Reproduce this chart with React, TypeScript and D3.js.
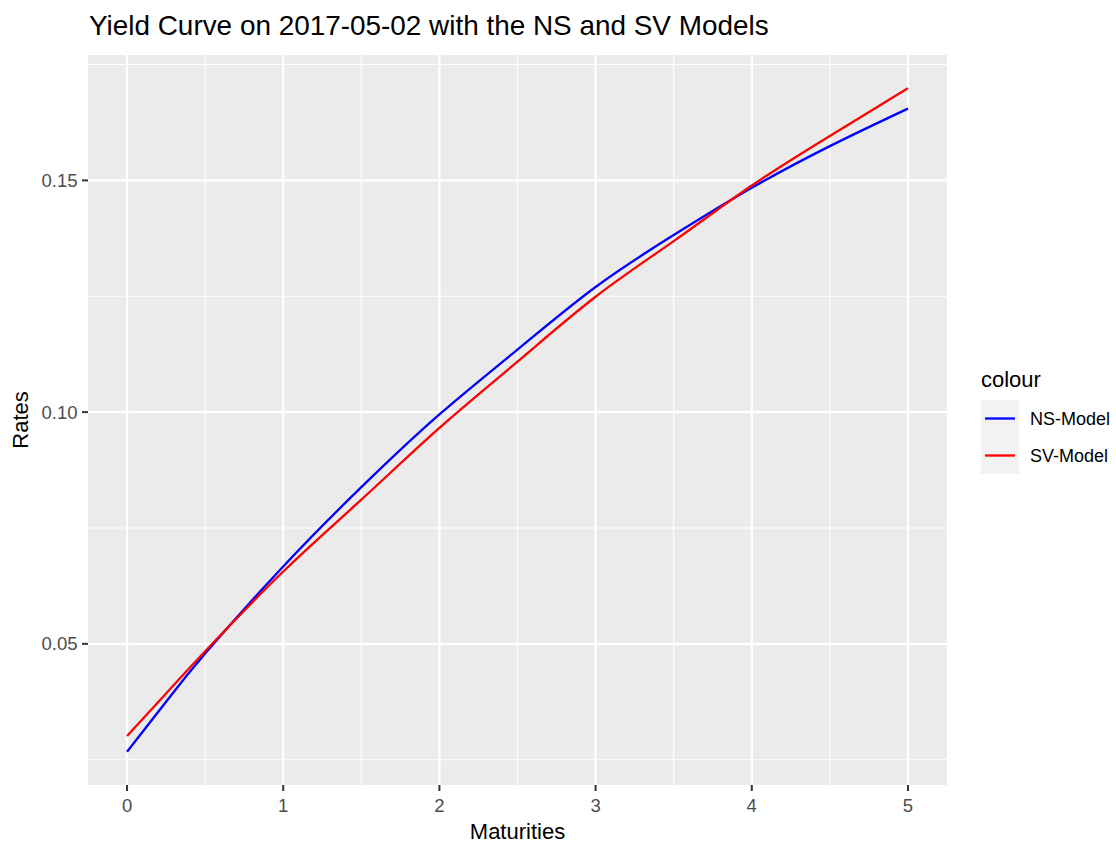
import React from "react";
import * as d3 from "d3";

// values
const maturities = [0, 0.25, 0.5, 1, 1.5, 2, 2.5, 3, 3.5, 4, 4.5, 5];
const nsRates = [0.0267, 0.0375, 0.0479, 0.0667, 0.0838, 0.0995, 0.1135, 0.127, 0.1382, 0.1484, 0.1574, 0.1655];
const svRates = [0.0301, 0.0393, 0.0484, 0.0656, 0.0811, 0.0966, 0.1109, 0.1249, 0.1369, 0.1489, 0.1596, 0.1699];

const seriesNames = ["NS-Model", "SV-Model"];
const seriesColors = ["#0000FF", "#FF0000"];

const xTicks = [0, 1, 2, 3, 4, 5];
const xMinor = [0.5, 1.5, 2.5, 3.5, 4.5];
const yTicks = [0.05, 0.1, 0.15];
const yMinor = [0.025, 0.075, 0.125, 0.175];

const FONT = "'Liberation Sans', Arial, Helvetica, sans-serif";

export default function App() {
  const W = 1116, H = 844;
  const panel = { left: 88, right: 947, top: 55, bottom: 785 };

  const allRates = nsRates.concat(svRates);
  const yMin = d3.min(allRates) as number;
  const yMax = d3.max(allRates) as number;
  const yPad = (yMax - yMin) * 0.05;
  const xPad = (d3.max(maturities)! - d3.min(maturities)!) * 0.05;

  const x = d3.scaleLinear()
    .domain([d3.min(maturities)! - xPad, d3.max(maturities)! + xPad])
    .range([panel.left, panel.right]);

  const y = d3.scaleLinear()
    .domain([yMin - yPad, yMax + yPad])
    .range([panel.bottom, panel.top]);

  const line = d3.line<number>()
    .x((_, i) => x(maturities[i]))
    .y((d) => y(d))
    .curve(d3.curveNatural);

  const series = [nsRates, svRates];

  return (
    <svg width={W} height={H} style={{ position: "absolute", left: 0, top: 0, background: "#fff" }} fontFamily={FONT}>
      <rect x={panel.left} y={panel.top} width={panel.right - panel.left} height={panel.bottom - panel.top} fill="#EBEBEB" />

      {yMinor.map((t) => (
        <line key={"ym" + t} x1={panel.left} x2={panel.right} y1={y(t)} y2={y(t)} stroke="#fff" strokeWidth={1.1} />
      ))}
      {xMinor.map((t) => (
        <line key={"xm" + t} x1={x(t)} x2={x(t)} y1={panel.top} y2={panel.bottom} stroke="#fff" strokeWidth={1.1} />
      ))}
      {yTicks.map((t) => (
        <line key={"yg" + t} x1={panel.left} x2={panel.right} y1={y(t)} y2={y(t)} stroke="#fff" strokeWidth={2.2} />
      ))}
      {xTicks.map((t) => (
        <line key={"xg" + t} x1={x(t)} x2={x(t)} y1={panel.top} y2={panel.bottom} stroke="#fff" strokeWidth={2.2} />
      ))}

      {series.map((s, i) => (
        <path key={seriesNames[i]} d={line(s) || ""} fill="none" stroke={seriesColors[i]} strokeWidth={2.3} />
      ))}

      {/* y axis */}
      {yTicks.map((t) => (
        <g key={"yt" + t}>
          <line x1={panel.left - 6} x2={panel.left} y1={y(t)} y2={y(t)} stroke="#333333" strokeWidth={2} />
          <text x={panel.left - 10.5} y={y(t)} dy="0.36em" textAnchor="end" fontSize={18.5} fill="#4D4D4D">
            {d3.format(".2f")(t)}
          </text>
        </g>
      ))}

      {/* x axis */}
      {xTicks.map((t) => (
        <g key={"xt" + t}>
          <line x1={x(t)} x2={x(t)} y1={panel.bottom} y2={panel.bottom + 6} stroke="#333333" strokeWidth={2} />
          <text x={x(t)} y={811.5} textAnchor="middle" fontSize={18.5} fill="#4D4D4D">
            {t}
          </text>
        </g>
      ))}

      <text x={(panel.left + panel.right) / 2} y={839} textAnchor="middle" fontSize={22} fill="#000">
        Maturities
      </text>
      <text transform={`translate(28,${(panel.top + panel.bottom) / 2}) rotate(-90)`} textAnchor="middle" fontSize={22} fill="#000">
        Rates
      </text>

      <text x={89} y={35} fontSize={27.9} fill="#000">
        Yield Curve on 2017-05-02 with the NS and SV Models
      </text>

      {/* legend */}
      <text x={981} y={387} fontSize={22} fill="#000">colour</text>
      {seriesNames.map((name, i) => (
        <g key={"lg" + name} transform={`translate(981,${400 + i * 37})`}>
          <rect width={38} height={37} fill="#F2F2F2" />
          <line x1={4} x2={34} y1={18.5} y2={18.5} stroke={seriesColors[i]} strokeWidth={2.3} />
          <text x={49} y={18.5} dy="0.36em" fontSize={18} fill="#000">{name}</text>
        </g>
      ))}
    </svg>
  );
}
